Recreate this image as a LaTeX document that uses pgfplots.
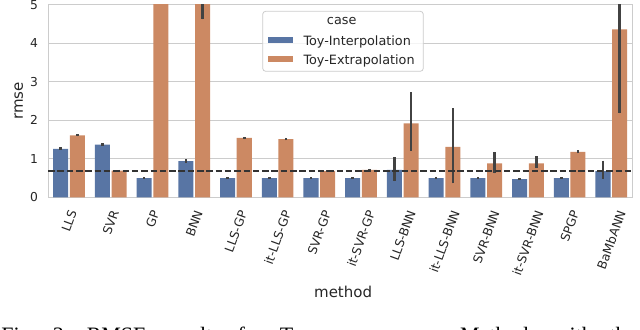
\documentclass[border=0pt]{standalone}
\usepackage{fontspec}
\setmainfont{DejaVu Sans}
\newfontfamily\capfont{Liberation Serif}
\usepackage{graphicx}
\usepackage{pgfplots}
\pgfplotsset{compat=1.18}

\definecolor{interp}{HTML}{5875A4}
\definecolor{extrap}{HTML}{CC8963}
\definecolor{errgray}{HTML}{424242}
\definecolor{gridgray}{HTML}{CCCCCC}
\definecolor{txt}{HTML}{262626}

\newcommand{\tickfont}{\fontsize{12.3bp}{14bp}\selectfont}
\newcommand{\labfont}{\fontsize{15bp}{18bp}\selectfont}
\newcommand{\legfont}{\fontsize{12.8bp}{15bp}\selectfont}

\pgfplotsset{
  errs/.style={error bars/.cd, y dir=both, y explicit, error mark=none,
    error bar style={errgray, line width=2.6bp}},
}

\begin{document}
\begin{tikzpicture}
\begin{axis}[
    name=ax,
    scale only axis,
    width=584bp, height=192.6bp,
    ybar, bar width=0.36,
    xmin=-0.5, xmax=13.5, ymin=0, ymax=5,
    xtick={0,...,13},
    xticklabels={\rotatebox{70}{LLS},\rotatebox{70}{SVR},\rotatebox{70}{GP},\rotatebox{70}{BNN},
      \rotatebox{70}{LLS-GP},\rotatebox{70}{it-LLS-GP},\rotatebox{70}{SVR-GP},\rotatebox{70}{it-SVR-GP},
      \rotatebox{70}{LLS-BNN},\rotatebox{70}{it-LLS-BNN},\rotatebox{70}{SVR-BNN},\rotatebox{70}{it-SVR-BNN},
      \rotatebox{70}{SPGP},\rotatebox{70}{BaMbANN}},
    ytick={0,1,2,3,4,5},
    major tick length=0pt,
    ymajorgrids,
    grid style={gridgray, line width=1bp},
    axis line style={gridgray, line width=1.25bp},
    tick label style={text=txt, font=\tickfont},
    /pgf/number format/assume math mode=true,
    yticklabel style={anchor=east, inner sep=0pt, xshift=-10bp},
    xticklabel style={anchor=north, inner sep=0pt, yshift=-12bp},
    xlabel={method}, ylabel={rmse},
    every axis x label/.style={at={(axis description cs:0.505,-0.5177)}, anchor=base, text=txt, font=\labfont},
    every axis y label/.style={at={(axis description cs:-0.0426,0.5)}, rotate=90, anchor=south, inner sep=0pt, text=txt, font=\labfont},
]

% Toy-Interpolation
\addplot[fill=interp, draw=none, bar shift=-0.2, errs] coordinates {
  (0,1.26) += (0,0.04) -= (0,0.03)
  (1,1.37) += (0,0.03) -= (0,0.03)
  (2,0.50) += (0,0.02) -= (0,0.02)
  (3,0.94) += (0,0.05) -= (0,0.04)
  (4,0.50) += (0,0.02) -= (0,0.02)
  (5,0.50) += (0,0.02) -= (0,0.02)
  (6,0.50) += (0,0.02) -= (0,0.02)
  (7,0.50) += (0,0.02) -= (0,0.02)
  (8,0.71) += (0,0.34) -= (0,0.28)
  (9,0.50) += (0,0.03) -= (0,0.03)
  (10,0.50) += (0,0.02) -= (0,0.02)
  (11,0.47) += (0,0.02) -= (0,0.02)
  (12,0.50) += (0,0.02) -= (0,0.02)
  (13,0.68) += (0,0.27) -= (0,0.21)
};

% Toy-Extrapolation
\addplot[fill=extrap, draw=none, bar shift=0.2, errs] coordinates {
  (0,1.61) += (0,0.03) -= (0,0.03)
  (1,0.69) += (0,0.02) -= (0,0.02)
  (2,9.00) += (0,1.00) -= (0,1.00)
  (3,5.60) += (0,1.00) -= (0,0.98)
  (4,1.54) += (0,0.03) -= (0,0.03)
  (5,1.51) += (0,0.03) -= (0,0.03)
  (6,0.68) += (0,0.02) -= (0,0.02)
  (7,0.71) += (0,0.03) -= (0,0.03)
  (8,1.92) += (0,0.81) -= (0,0.71)
  (9,1.31) += (0,1.00) -= (0,0.95)
  (10,0.88) += (0,0.30) -= (0,0.26)
  (11,0.88) += (0,0.19) -= (0,0.11)
  (12,1.18) += (0,0.04) -= (0,0.04)
  (13,4.36) += (0,1.80) -= (0,2.18)
};

% reference level
\addplot[sharp plot, forget plot, draw=black!80, line width=1.6bp,
  dash pattern=on 6.5bp off 2.8bp] coordinates {(-0.5,0.69) (13.5,0.69)};
\end{axis}

% legend and clipped caption, placed from the axis corner
\begin{scope}[shift={(ax.north west)}, x=1bp, y=1bp]
  \draw[gridgray, line width=0.8bp, fill=white, fill opacity=0.8, rounded corners=3bp]
    (214.5,-6.6) rectangle (375.1,-66.6);
  \node[anchor=base, inner sep=0pt, text=txt, font=\legfont] at (293.5,-20.1) {case};
  \fill[interp] (220.1,-32.6) rectangle (245.1,-38.6);
  \fill[extrap] (220.1,-51.6) rectangle (245.1,-57.6);
  \node[anchor=base west, inner sep=0pt, text=txt, font=\legfont] at (255.1,-40.6) {Toy-Interpolation};
  \node[anchor=base west, inner sep=0pt, text=txt, font=\legfont] at (255.1,-59.3) {Toy-Extrapolation};
  \node[anchor=base west, inner sep=0pt, font=\capfont\fontsize{22bp}{26bp}\selectfont]
    at (-47,-337.5) {\frenchspacing\spaceskip=16.7bp\relax Fig. 3: RMSE results for Toy};
  \node[anchor=base east, inner sep=0pt, font=\capfont\fontsize{22bp}{26bp}\selectfont]
    at (588.5,-337.5) {\frenchspacing\spaceskip=16.7bp\relax Methods with the};
\end{scope}

\pgfresetboundingbox
\path ([xshift=-48.2bp, yshift=4.7bp]ax.north west) rectangle ([xshift=7.8bp, yshift=-132.7bp]ax.south east);
\end{tikzpicture}
\end{document}
